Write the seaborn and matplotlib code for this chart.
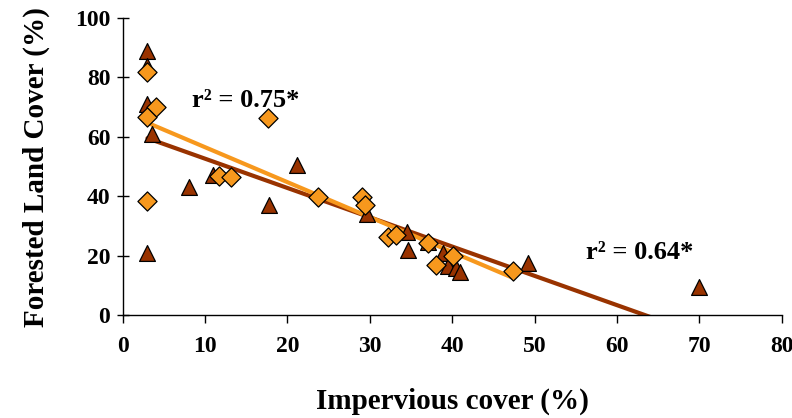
import numpy as np
import pandas as pd
import matplotlib
matplotlib.use("Agg")
import matplotlib.pyplot as plt
import seaborn as sns

# brown triangles
tri_x = [3.0, 3.0, 3.0, 3.5, 3.0, 8.0, 10.9, 17.7, 21.1, 29.6, 34.5, 34.6,
         37.0, 38.9, 39.5, 40.4, 41.0, 49.2, 70.0]
tri_y = [89.0, 84.0, 71.0, 61.0, 21.0, 43.0, 47.0, 37.0, 50.5, 34.0, 28.0, 22.0,
         24.5, 21.0, 16.5, 15.8, 14.5, 17.5, 9.4]

# orange diamonds
dia_x = [3.0, 4.0, 3.0, 17.6, 3.0, 11.7, 13.2, 23.7, 29.0, 29.4, 32.2, 33.2,
         37.0, 38.0, 40.1, 47.4]
dia_y = [81.8, 70.0, 66.7, 66.3, 38.4, 46.8, 46.5, 39.7, 39.7, 37.0, 26.3, 27.0,
         24.2, 17.0, 20.0, 15.0]

brown = "#993300"
orange = "#F7981D"

df_tri = pd.DataFrame({"x": tri_x, "y": tri_y})
df_dia = pd.DataFrame({"x": dia_x, "y": dia_y})

sns.set_style("white")
plt.rcParams["font.family"] = ["Liberation Serif", "DejaVu Serif"]
plt.rcParams["font.weight"] = "bold"
plt.rcParams["text.color"] = "black"
plt.rcParams["axes.labelcolor"] = "black"

fig = plt.figure(figsize=(7.92, 4.18), dpi=100)
ax = fig.add_axes([0.155, 0.246, 0.832, 0.711])

# trend lines
sns.regplot(data=df_tri, x="x", y="y", ax=ax, scatter=False, ci=None,
            truncate=True, line_kws={"color": brown, "lw": 3, "zorder": 2})
sns.regplot(data=df_dia, x="x", y="y", ax=ax, scatter=False, ci=None,
            truncate=True, line_kws={"color": orange, "lw": 3, "zorder": 2})

sns.scatterplot(data=df_tri, x="x", y="y", ax=ax, marker="^", s=130,
                color=brown, edgecolor="black", linewidth=0.9, zorder=3)
sns.scatterplot(data=df_dia, x="x", y="y", ax=ax, marker="D", s=95,
                color=orange, edgecolor="black", linewidth=0.9, zorder=4)

ax.set_xlim(0, 80)
ax.set_ylim(0, 100)
ax.set_xticks(range(0, 81, 10))
ax.set_yticks(range(0, 101, 20))

for side in ["top", "right"]:
    ax.spines[side].set_visible(False)
for side in ["left", "bottom"]:
    ax.spines[side].set_color("black")
    ax.spines[side].set_linewidth(1.0)

ax.tick_params(axis="x", direction="out", length=6, width=1, colors="black",
               labelsize=17, pad=9)
ax.tick_params(axis="y", direction="inout", length=8, width=1, colors="black",
               labelsize=17, pad=5)
ax.tick_params(bottom=True, left=True)
for lbl in ax.get_xticklabels() + ax.get_yticklabels():
    lbl.set_fontweight("bold")

ax.set_xlabel("Impervious cover (%)", fontsize=21, fontweight="bold", labelpad=22)
ax.set_ylabel("Forested Land Cover (%)", fontsize=21, fontweight="bold", labelpad=18)

ax.text(14.9, 72.4, "r² = 0.75*", fontsize=19, fontweight="bold",
        ha="center", va="center")
ax.text(62.7, 21.0, "r² = 0.64*", fontsize=19, fontweight="bold",
        ha="center", va="center")

fig.savefig("out.png", dpi=100)
